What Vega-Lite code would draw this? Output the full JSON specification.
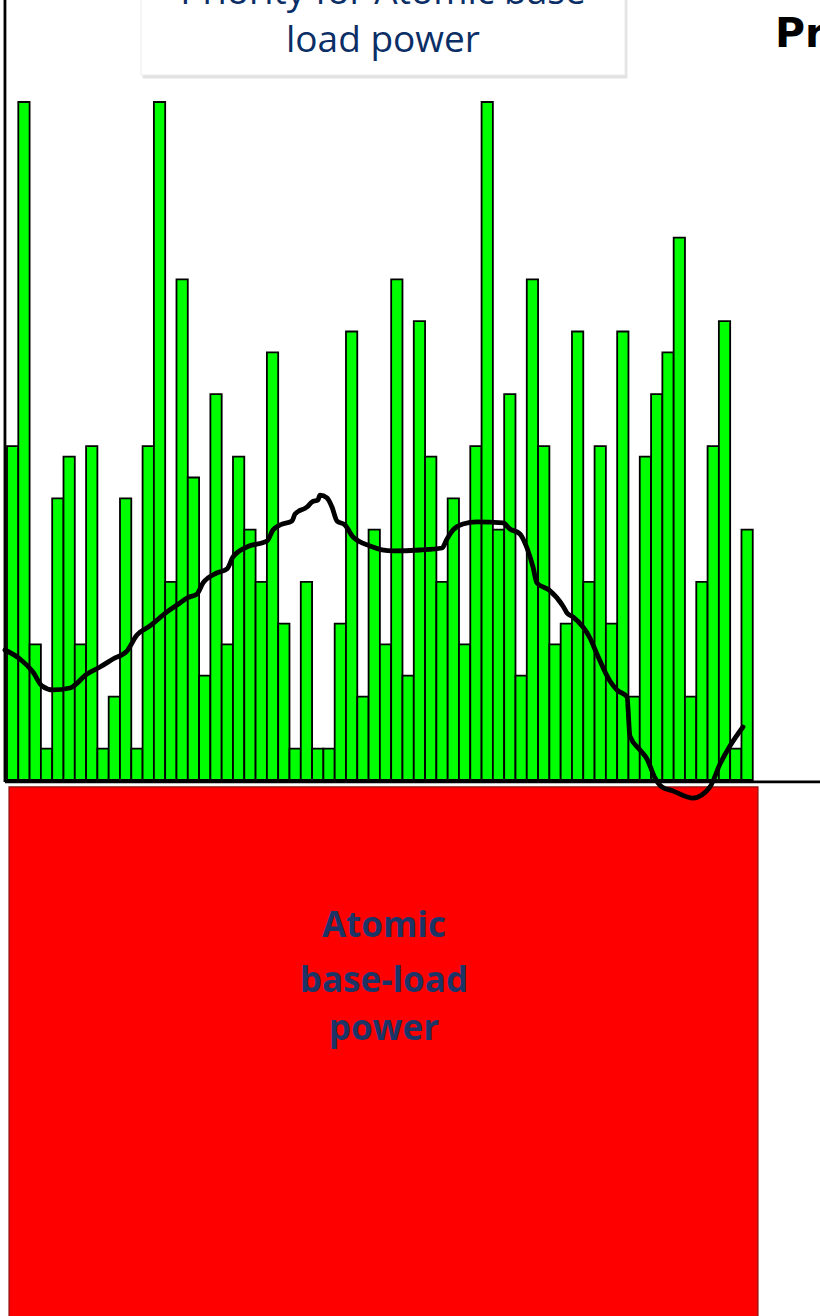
{
  "$schema": "https://vega.github.io/schema/vega-lite/v6.json",
  "width": 820,
  "height": 1316,
  "autosize": {"type": "none"},
  "padding": 0,
  "background": "white",
  "config": {"view": {"stroke": null}},
  "datasets": {
    "bars": [
      {"x":0,"x2":1,"y":32},{"x":1,"x2":2,"y":65},{"x":2,"x2":3,"y":13},{"x":3,"x2":4,"y":3},{"x":4,"x2":5,"y":27},
      {"x":5,"x2":6,"y":31},{"x":6,"x2":7,"y":13},{"x":7,"x2":8,"y":32},{"x":8,"x2":9,"y":3},{"x":9,"x2":10,"y":8},
      {"x":10,"x2":11,"y":27},{"x":11,"x2":12,"y":3},{"x":12,"x2":13,"y":32},{"x":13,"x2":14,"y":65},{"x":14,"x2":15,"y":19},
      {"x":15,"x2":16,"y":48},{"x":16,"x2":17,"y":29},{"x":17,"x2":18,"y":10},{"x":18,"x2":19,"y":37},{"x":19,"x2":20,"y":13},
      {"x":20,"x2":21,"y":31},{"x":21,"x2":22,"y":24},{"x":22,"x2":23,"y":19},{"x":23,"x2":24,"y":41},{"x":24,"x2":25,"y":15},
      {"x":25,"x2":26,"y":3},{"x":26,"x2":27,"y":19},{"x":27,"x2":28,"y":3},{"x":28,"x2":29,"y":3},{"x":29,"x2":30,"y":15},
      {"x":30,"x2":31,"y":43},{"x":31,"x2":32,"y":8},{"x":32,"x2":33,"y":24},{"x":33,"x2":34,"y":13},{"x":34,"x2":35,"y":48},
      {"x":35,"x2":36,"y":10},{"x":36,"x2":37,"y":44},{"x":37,"x2":38,"y":31},{"x":38,"x2":39,"y":19},{"x":39,"x2":40,"y":27},
      {"x":40,"x2":41,"y":13},{"x":41,"x2":42,"y":32},{"x":42,"x2":43,"y":65},{"x":43,"x2":44,"y":24},{"x":44,"x2":45,"y":37},
      {"x":45,"x2":46,"y":10},{"x":46,"x2":47,"y":48},{"x":47,"x2":48,"y":32},{"x":48,"x2":49,"y":13},{"x":49,"x2":50,"y":15},
      {"x":50,"x2":51,"y":43},{"x":51,"x2":52,"y":19},{"x":52,"x2":53,"y":32},{"x":53,"x2":54,"y":15},{"x":54,"x2":55,"y":43},
      {"x":55,"x2":56,"y":8},{"x":56,"x2":57,"y":31},{"x":57,"x2":58,"y":37},{"x":58,"x2":59,"y":41},{"x":59,"x2":60,"y":52},
      {"x":60,"x2":61,"y":8},{"x":61,"x2":62,"y":19},{"x":62,"x2":63,"y":32},{"x":63,"x2":64,"y":44},{"x":64,"x2":65,"y":3},
      {"x":65,"x2":66,"y":24}
    ],
    "line": [
      {"x":-0.18,"y":12.46},{"x":1.15,"y":11.6},{"x":2.3,"y":10.35},{"x":3.1,"y":9.01},{"x":4.07,"y":8.63},
      {"x":5.58,"y":8.82},{"x":7.08,"y":10.16},{"x":8.23,"y":10.83},{"x":9.38,"y":11.6},{"x":10.62,"y":12.37},
      {"x":11.5,"y":13.9},{"x":12.65,"y":14.77},{"x":14.16,"y":16.11},{"x":15.31,"y":16.97},{"x":15.93,"y":17.45},
      {"x":16.81,"y":17.83},{"x":17.35,"y":18.89},{"x":18.58,"y":19.85},{"x":19.47,"y":20.23},{"x":20.0,"y":21.38},
      {"x":21.24,"y":22.34},{"x":23.01,"y":22.91},{"x":23.54,"y":23.97},{"x":24.16,"y":24.45},{"x":25.22,"y":24.83},
      {"x":25.49,"y":25.5},{"x":26.55,"y":26.17},{"x":26.99,"y":26.65},{"x":27.52,"y":26.85},{"x":27.7,"y":27.32},
      {"x":28.32,"y":27.04},{"x":28.76,"y":26.17},{"x":29.2,"y":24.83},{"x":29.91,"y":24.45},{"x":30.62,"y":23.3},
      {"x":32.12,"y":22.44},{"x":34.16,"y":21.96},{"x":36.55,"y":22.05},{"x":38.5,"y":22.24},{"x":38.94,"y":23.11},
      {"x":39.47,"y":23.97},{"x":40.35,"y":24.54},{"x":41.59,"y":24.74},{"x":43.89,"y":24.64},{"x":44.51,"y":24.07},
      {"x":45.4,"y":23.59},{"x":46.02,"y":22.24},{"x":46.55,"y":20.42},{"x":46.9,"y":18.89},{"x":47.96,"y":18.22},
      {"x":49.2,"y":16.68},{"x":49.56,"y":16.01},{"x":50.09,"y":15.63},{"x":51.59,"y":13.61},{"x":52.21,"y":12.08},
      {"x":53.36,"y":9.49},{"x":53.98,"y":8.63},{"x":54.87,"y":7.96},{"x":55.13,"y":4.22},{"x":56.02,"y":2.88},
      {"x":56.64,"y":2.01},{"x":57.35,"y":0.19},{"x":57.96,"y":-0.67},{"x":58.94,"y":-1.05},{"x":60.71,"y":-1.73},
      {"x":62.21,"y":-0.67},{"x":63.1,"y":1.53},{"x":63.98,"y":3.26},{"x":65.13,"y":5.08}
    ],
    "shadow": [{"x":12.0,"x2":54.9,"y":67.25,"y2":80}],
    "box": [{"x":11.86,"x2":54.69,"y":67.59,"y2":80}],
    "base": [{"x":0.18,"x2":66.46,"y":-0.67,"y2":-60}],
    "axes": [
      {"x":-0.18,"x2":-0.18,"y":80,"y2":-0.19},
      {"x":-0.18,"x2":75,"y":-0.19,"y2":-0.19}
    ],
    "boxText": [
      {"x":33.27,"y":74.4,"label":"Priority for Atomic base"},
      {"x":33.27,"y":69.8,"label":"load power"}
    ],
    "baseText": [
      {"x":33.36,"y":-15.05,"label":"Atomic"},
      {"x":33.36,"y":-20.33,"label":"base-load"},
      {"x":33.36,"y":-24.93,"label":"power"}
    ],
    "cornerText": [{"x":67.96,"y":70.28,"label":"Priority"}]
  },
  "encoding": {
    "x": {"field": "x", "type": "quantitative", "axis": null,
          "scale": {"domain": [-0.619, 71.95], "zero": false, "nice": false}},
    "y": {"field": "y", "type": "quantitative", "axis": null,
          "scale": {"domain": [-51.39, 74.78], "zero": false, "nice": false}}
  },
  "layer": [
    {
      "data": {"name": "shadow"},
      "mark": {"type": "rect", "fill": "#bfbfbf", "opacity": 0.45, "clip": true},
      "encoding": {"x2": {"field": "x2"}, "y2": {"field": "y2"}}
    },
    {
      "data": {"name": "box"},
      "mark": {"type": "rect", "fill": "white", "stroke": "#ececec", "strokeWidth": 1, "clip": true},
      "encoding": {"x2": {"field": "x2"}, "y2": {"field": "y2"}}
    },
    {
      "data": {"name": "base"},
      "mark": {"type": "rect", "fill": "#ff0000", "stroke": "#8a1010", "strokeWidth": 1.2, "clip": true},
      "encoding": {"x2": {"field": "x2"}, "y2": {"field": "y2"}}
    },
    {
      "data": {"name": "bars"},
      "mark": {"type": "rect", "fill": "#00ff00", "stroke": "#000000", "strokeWidth": 1.8},
      "encoding": {"x2": {"field": "x2"}, "y2": {"datum": 0}}
    },
    {
      "data": {"name": "axes"},
      "mark": {"type": "rule", "color": "#000000", "strokeWidth": 2.8, "clip": true},
      "encoding": {"x2": {"field": "x2"}, "y2": {"field": "y2"}}
    },
    {
      "data": {"name": "line"},
      "mark": {"type": "line", "color": "#000000", "strokeWidth": 4.8, "interpolate": "monotone", "strokeCap": "round", "strokeJoin": "round"},
      "encoding": {"order": {"field": "x", "type": "quantitative"}}
    },
    {
      "data": {"name": "boxText"},
      "mark": {"type": "text", "font": "Open Sans", "fontSize": 37, "color": "#0a2e65", "align": "center", "baseline": "alphabetic", "clip": true},
      "encoding": {"text": {"field": "label"}}
    },
    {
      "data": {"name": "baseText"},
      "mark": {"type": "text", "font": "Open Sans", "fontSize": 35, "fontWeight": "bold", "color": "#1c3566", "align": "center", "baseline": "alphabetic"},
      "encoding": {"text": {"field": "label"}}
    },
    {
      "data": {"name": "cornerText"},
      "mark": {"type": "text", "font": "DejaVu Sans", "fontSize": 41, "fontWeight": "bold", "color": "#000000", "align": "left", "baseline": "alphabetic", "clip": true},
      "encoding": {"text": {"field": "label"}}
    }
  ]
}
